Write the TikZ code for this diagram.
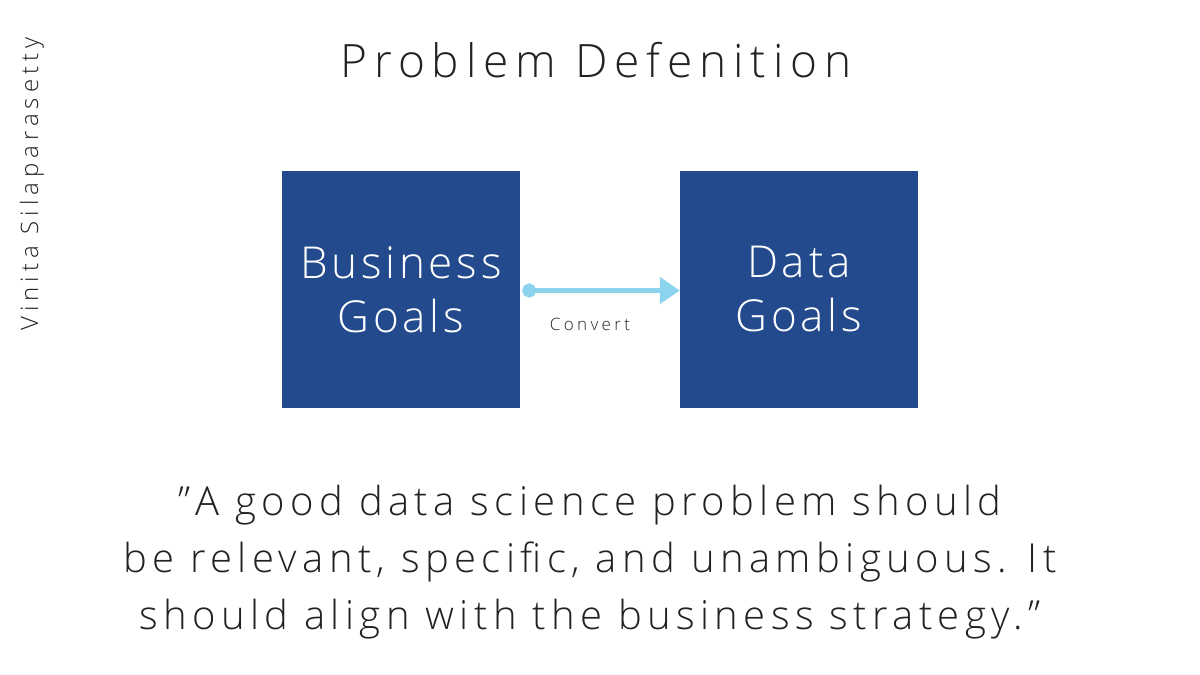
\documentclass[tikz,border=0pt]{standalone}
\usepackage{fontspec}
\setmainfont{Open Sans Light}
\usetikzlibrary{arrows.meta}
\definecolor{boxblue}{HTML}{224A8C}
\definecolor{arrowblue}{HTML}{8CD3EE}
\definecolor{txt}{HTML}{222222}
\newcommand{\ls}[1]{\addfontfeature{LetterSpace=#1}}
\begin{document}
\begin{tikzpicture}[x=1pt,y=-1pt,
  goalbox/.style={fill=boxblue,minimum width=238pt,minimum height=237pt,inner sep=0pt,text=white,font=\fontsize{44}{54}\selectfont\ls{8.5},align=center}]
\useasboundingbox (0,0) rectangle (1200,675);
\node[text=txt,font=\fontsize{46}{54}\selectfont\ls{15}] (title) at (596,60) {Problem Defenition};
\node[rotate=90,text=txt,font=\fontsize{24}{28}\selectfont\ls{21}] (name) at (32,184) {Vinita Silaparasetty};
\node[goalbox] (bg) at (401,289.5) {Business\\Goals};
\node[goalbox] (dg) at (799,289.5) {Data\\Goals};
\draw[arrowblue,line width=5pt,{Circle[length=14pt]}-{Triangle[length=20pt,width=26pt]}] (bg.east) ++(2,1) coordinate (s) -- (dg.west |- s);
\node[text=txt,font=\fontsize{17}{20}\selectfont\ls{20}] (conv) at (590,324) {Convert};
\node[text=txt,font=\fontsize{40}{57}\selectfont\ls{13.5},align=center] (quote) at (590,562) {\char34 A good data science problem should\\be relevant, specific, and unambiguous. It\\should align with the business strategy.\char34};
\end{tikzpicture}
\end{document}
